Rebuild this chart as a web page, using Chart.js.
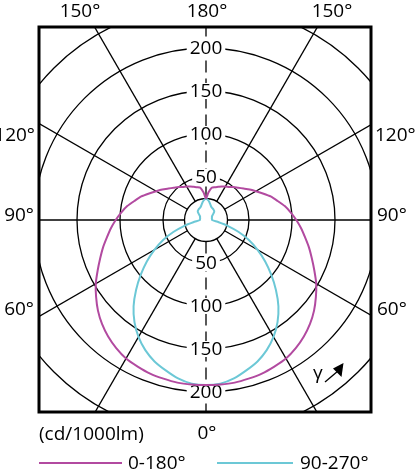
<!DOCTYPE html>
<html>
<head>
<meta charset="utf-8">
<script src="https://cdn.jsdelivr.net/npm/chart.js@4.4.1/dist/chart.umd.min.js"></script>
<style>
  html, body { margin: 0; padding: 0; background: #fff; }
  #polarChart { display: block; }
</style>
</head>
<body>
<canvas id="polarChart" width="415" height="470"></canvas>
<script>
// --- Data: luminous intensity (cd/1000lm) per gamma angle, 5 deg steps from nadir ---
const gammaAngles = [0, 5, 10, 15, 20, 25, 30, 35, 40, 45, 50, 55, 60, 65, 70, 75, 80, 85, 90,
    95, 100, 105, 110, 115, 120, 125, 130, 135, 140, 145, 150, 155, 160, 165, 170, 175, 180];
const plane0_180 = [192, 192, 192, 191, 190, 188, 186, 182, 177, 171, 164, 156, 148, 139, 131, 124, 117, 111, 105,
    99, 93, 86, 80, 73, 67, 62, 57, 53, 50, 47, 45, 43, 41, 39.5, 38, 32, 25];
const plane90_270 = [192, 191, 187, 181, 175, 167, 157, 145, 131, 115, 99, 84, 69, 55, 40, 26, 15, 9, 7,
    7, 7, 7, 7.5, 7.5, 8, 9, 11, 13.5, 14.5, 15, 15.5, 16, 17, 19, 21.5, 23.5, 25];
const seriesLabels = ['0-180°', '90-270°'];
const ringTicks = [50, 100, 150, 200];
const innerRing = 25;
const spokeStep = 30;
const unitLabel = '(cd/1000lm)';

const MAGENTA = '#b24aa0';
const CYAN = '#6cc8d6';
const FONT = '"Open Sans", sans-serif';
const TEXT = '500 19px ' + FONT;

// Layout of the plot frame (px)
const frame = { left: 39, top: 27, right: 371, bottom: 412 };
const centre = { x: 206, y: 220 };
const radiusAtMax = 215; // radius of the 250 ring

// radar index 0 is at the top (gamma 180), going clockwise down to nadir and back up
const stepDeg = gammaAngles[1] - gammaAngles[0];
const positions = [];
for (let p = 0; p < 360; p += stepDeg) positions.push(p);

function gammaAt(p) {
    return p <= 180 ? 180 - p : p - 180;
}

function aroundCircle(values) {
    return positions.map(p => values[gammaAngles.indexOf(gammaAt(p))]);
}

// --- Grid extras, tick labels, frame and legend ---
const polarDecor = {
    id: 'polarDecor',
    beforeDraw(chart) {
        const { ctx, chartArea: a } = chart;
        ctx.save();
        ctx.beginPath();
        ctx.rect(a.left, a.top, a.right - a.left, a.bottom - a.top);
        ctx.clip();
    },
    beforeDatasetsDraw(chart) {
        const { ctx } = chart;
        const r = chart.scales.r;

        ctx.strokeStyle = '#000';
        ctx.lineWidth = 1.3;

        // inner ring
        ctx.beginPath();
        ctx.arc(r.xCenter, r.yCenter, r.getDistanceFromCenterForValue(innerRing), 0, Math.PI * 2);
        ctx.stroke();

        // spokes every 30 deg, the vertical one dashed
        for (let p = 0; p < 360; p += spokeStep) {
            const idx = positions.indexOf(p);
            const from = r.getPointPositionForValue(idx, innerRing);
            const to = r.getPointPositionForValue(idx, 400);
            ctx.setLineDash(p % 180 === 0 ? [12, 6] : []);
            ctx.beginPath();
            ctx.moveTo(from.x, from.y);
            ctx.lineTo(to.x, to.y);
            ctx.stroke();
        }
        ctx.setLineDash([]);

        // ring values, above and below the centre
        ctx.font = TEXT;
        ctx.textAlign = 'center';
        ctx.textBaseline = 'middle';
        ringTicks.forEach(v => {
            const d = r.getDistanceFromCenterForValue(v);
            const label = String(v);
            const w = ctx.measureText(label).width;
            [r.yCenter - d, r.yCenter + d].forEach(y => {
                ctx.fillStyle = '#fff';
                ctx.fillRect(r.xCenter - w / 2 - 3, y - 8, w + 6, 16);
                ctx.fillStyle = '#000';
                ctx.fillText(label, r.xCenter, y + 1);
            });
        });

        ctx.restore(); // end of frame clip
    },
    afterDraw(chart) {
        const { ctx } = chart;
        ctx.save();

        // frame
        ctx.strokeStyle = '#000';
        ctx.lineWidth = 3;
        ctx.strokeRect(frame.left, frame.top, frame.right - frame.left, frame.bottom - frame.top);

        // angle labels
        ctx.fillStyle = '#000';
        ctx.font = TEXT;
        ctx.textBaseline = 'alphabetic';
        ctx.textAlign = 'center';
        ctx.fillText('150°', 80, 17);
        ctx.fillText('180°', 207, 17);
        ctx.fillText('150°', 332, 17);
        ctx.fillText('0°', 207, 439);

        ctx.textAlign = 'right';
        ctx.fillText('120°', 35, 141);
        ctx.fillText('90°', 34, 221);
        ctx.fillText('60°', 34, 315);
        ctx.textAlign = 'left';
        ctx.fillText('120°', 375, 141);
        ctx.fillText('90°', 377, 221);
        ctx.fillText('60°', 377, 315);

        ctx.fillText(unitLabel, 39, 440);

        // gamma direction mark
        ctx.fillText('γ', 313, 379);
        ctx.lineWidth = 1.3;
        ctx.beginPath();
        ctx.moveTo(325, 382);
        ctx.lineTo(338, 371);
        ctx.stroke();
        ctx.beginPath();
        ctx.moveTo(343.5, 363);
        ctx.lineTo(333, 368.5);
        ctx.lineTo(341.5, 377);
        ctx.closePath();
        ctx.fill();

        // legend
        const legend = [
            { color: MAGENTA, x0: 39, x1: 122, tx: 128 },
            { color: CYAN, x0: 217, x1: 293, tx: 300 }
        ];
        legend.forEach((item, i) => {
            ctx.strokeStyle = item.color;
            ctx.lineWidth = 2;
            ctx.beginPath();
            ctx.moveTo(item.x0, 463);
            ctx.lineTo(item.x1, 463);
            ctx.stroke();
            ctx.fillStyle = '#000';
            ctx.fillText(seriesLabels[i], item.tx, 469);
        });

        ctx.restore();
    }
};

document.addEventListener('DOMContentLoaded', () => {
    const ctx = document.getElementById('polarChart');

    new Chart(ctx, {
        type: 'radar',
        data: {
            labels: positions,
            datasets: [
                {
                    label: seriesLabels[0],
                    data: aroundCircle(plane0_180),
                    borderColor: MAGENTA,
                    borderWidth: 2,
                    pointRadius: 0,
                    tension: 0.2,
                    fill: false
                },
                {
                    label: seriesLabels[1],
                    data: aroundCircle(plane90_270),
                    borderColor: CYAN,
                    borderWidth: 2,
                    pointRadius: 0,
                    tension: 0.2,
                    fill: false
                }
            ]
        },
        options: {
            responsive: false,
            animation: false,
            layout: {
                padding: {
                    left: frame.left,
                    top: frame.top,
                    right: 415 - frame.right,
                    bottom: 470 - frame.bottom
                }
            },
            plugins: {
                legend: { display: false },
                tooltip: { enabled: false }
            },
            scales: {
                r: {
                    min: 0,
                    max: 250,
                    ticks: { stepSize: 50, display: false },
                    grid: { color: '#000', lineWidth: 1.3, circular: true },
                    angleLines: { display: false },
                    pointLabels: { display: false },
                    afterFit: (scale) => {
                        // pin the pole and the ring scale to the drawing
                        scale.xCenter = centre.x;
                        scale.yCenter = centre.y;
                        scale.drawingArea = radiusAtMax;
                    }
                }
            }
        },
        plugins: [polarDecor]
    });
});
</script>
</body>
</html>
